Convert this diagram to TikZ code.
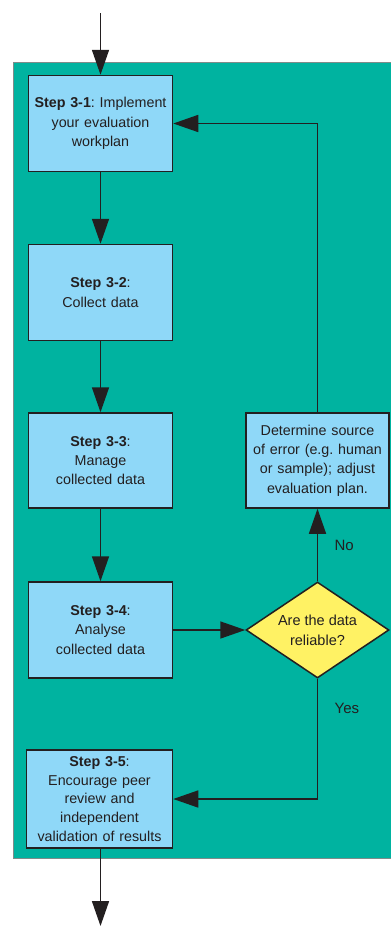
\documentclass[tikz,border=0pt]{standalone}
\usepackage{fontspec}
\setmainfont{Liberation Sans}
\usetikzlibrary{arrows.meta,shapes.geometric}
\definecolor{panelgreen}{HTML}{00B3A0}
\definecolor{panelborder}{HTML}{7F8C8A}
\definecolor{boxblue}{HTML}{8FD8F8}
\definecolor{diayellow}{HTML}{FFF264}
\definecolor{ink}{HTML}{231F20}
\frenchspacing
\tikzset{
  stepbox/.style={draw=ink, line width=1.5pt, fill=boxblue, text=ink, inner sep=0pt,
    minimum width=144pt, minimum height=96pt, text width=140pt, align=center,
    font=\fontsize{14.3}{19.3}\selectfont},
  decision/.style={diamond, draw=ink, line width=1.5pt, fill=diayellow, text=ink, inner sep=0pt,
    minimum width=143pt, minimum height=96pt, align=center, aspect=1.49,
    font=\fontsize{14.5}{20}\selectfont},
  arr/.style={draw=ink, line width=1.6pt, -{Triangle[length=25pt,width=17pt]}},
  lbl/.style={text=ink, font=\fontsize{15}{18}\selectfont}
}
\begin{document}
\begin{tikzpicture}[x=1pt,y=-1pt]
\useasboundingbox (0,0) rectangle (391,927);
\draw[panelborder, line width=1pt, fill=panelgreen] (13.5,62) rectangle (392,858);
\node[stepbox] (b1) at (100.5,123.5) {\textbf{Step 3-1}: Implement\\ your evaluation\\ workplan};
\node[stepbox] (b2) at (100.5,292.5) {\textbf{Step 3-2}:\\ Collect data};
\node[stepbox, minimum height=95pt] (b3) at (100.5,460.5) {\textbf{Step 3-3}:\\ Manage\\ collected data};
\node[stepbox] (b4) at (100.5,630) {\textbf{Step 3-4}:\\ Analyse\\ collected data};
\node[stepbox, minimum width=146pt, minimum height=98pt, text width=144pt,
  font=\fontsize{14.3}{18.6}\selectfont] (b5) at (99.5,799)
  {\textbf{Step 3-5}:\\ Encourage peer\\ review and\\ independent\\ validation of results};
\node[stepbox, minimum width=143pt, minimum height=95pt, text width=140pt] (err) at (317.5,460.5)
  {Determine source\\ of error (e.g. human\\ or sample); adjust\\ evaluation plan.};
\node[decision] (dia) at (317.5,630) {Are the data\\ reliable?};
\coordinate (top) at (100.5,13);
\coordinate (bot) at (100.5,926);
\draw[arr] (top) -- (b1);
\draw[arr] (b1) -- (b2);
\draw[arr] (b2) -- (b3);
\draw[arr] (b3) -- (b4);
\draw[arr] (b4) -- (dia);
\draw[arr] (dia) -- node[lbl, right=13pt, pos=0.5] (no) {No} (err);
\draw[arr] (err.north) |- (b1.east);
\draw[arr] (dia.south) -- node[lbl, right=13pt, pos=0.25] (yes) {Yes} (dia.south |- b5.east) -- (b5.east);
\draw[arr] (b5.south -| bot) -- (bot);
\end{tikzpicture}
\end{document}
